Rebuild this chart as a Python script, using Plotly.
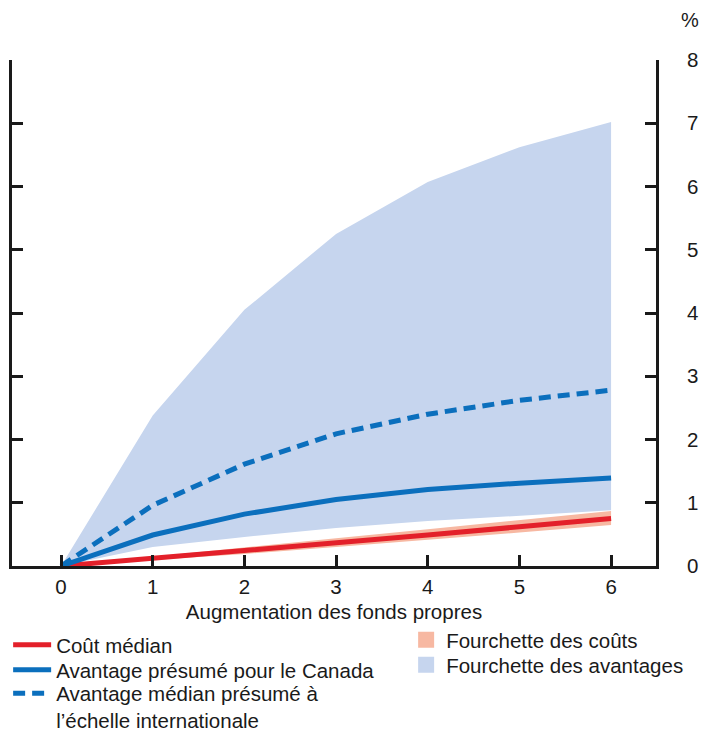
import plotly.graph_objects as go

x = [0, 1, 2, 3, 4, 5, 6]
cost_median = [0, 0.12, 0.24, 0.37, 0.49, 0.62, 0.75]
cost_low = [0, 0.09, 0.19, 0.30, 0.41, 0.53, 0.65]
cost_high = [0, 0.15, 0.29, 0.44, 0.58, 0.72, 0.87]
benefit_canada = [0, 0.49, 0.82, 1.05, 1.21, 1.31, 1.39]
benefit_intl = [0, 0.96, 1.61, 2.09, 2.40, 2.62, 2.78]
benefit_low = [0, 0.30, 0.46, 0.60, 0.71, 0.80, 0.88]
benefit_high = [0, 2.38, 4.05, 5.25, 6.07, 6.62, 7.02]
yticks = [0, 1, 2, 3, 4, 5, 6, 7, 8]
xticks = [0, 1, 2, 3, 4, 5, 6]

RED = "#e3202a"
BLUE = "#0b6fbd"
BAND_B = "#c6d5ee"
BAND_C = "#f7b8a2"
FONT = "Liberation Sans, Arial, sans-serif"
INK = "#1a1a1a"

fig = go.Figure()
fig.add_trace(go.Scatter(x=x, y=benefit_low, mode="lines", line=dict(width=0),
                         showlegend=False, hoverinfo="skip"))
fig.add_trace(go.Scatter(x=x, y=benefit_high, mode="lines", line=dict(width=0),
                         fill="tonexty", fillcolor=BAND_B, showlegend=False))
fig.add_trace(go.Scatter(x=x, y=cost_low, mode="lines", line=dict(width=0),
                         showlegend=False, hoverinfo="skip"))
fig.add_trace(go.Scatter(x=x, y=cost_high, mode="lines", line=dict(width=0),
                         fill="tonexty", fillcolor=BAND_C, showlegend=False))
fig.add_trace(go.Scatter(x=x, y=cost_median, mode="lines", name="Coût médian",
                         line=dict(color=RED, width=5), legend="legend"))
fig.add_trace(go.Scatter(x=x, y=benefit_canada, mode="lines", name="Avantage présumé pour le Canada",
                         line=dict(color=BLUE, width=5), legend="legend3"))
fig.add_trace(go.Scatter(x=x, y=benefit_intl, mode="lines",
                         name="Avantage médian présumé à<br>l’échelle internationale",
                         line=dict(color=BLUE, width=5, dash="12px,7px"), legend="legend4"))
# legend swatches for bands
fig.add_trace(go.Scatter(x=[None], y=[None], mode="markers", name="Fourchette des coûts",
                         marker=dict(symbol="square", size=19, color=BAND_C), legend="legend2"))
fig.add_trace(go.Scatter(x=[None], y=[None], mode="markers", name="Fourchette des avantages",
                         marker=dict(symbol="square", size=19, color=BAND_B), legend="legend5"))
# invisible trace for the right axis
fig.add_trace(go.Scatter(x=[None], y=[None], yaxis="y2", showlegend=False))

axis_common = dict(ticks="inside", ticklen=11, tickwidth=2.5, tickcolor=INK,
                   showline=True, linewidth=3, linecolor=INK, showgrid=False,
                   zeroline=False, automargin=False)

LFONT = dict(size=20.5)
def leg(xp, yp, anchor="middle"):
    return dict(x=xp, y=yp, xanchor="left", yanchor=anchor, bgcolor="rgba(0,0,0,0)",
                font=LFONT, valign="top", itemwidth=38)

fig.update_layout(
    width=704, height=738,
    margin=dict(l=12, r=48, t=60, b=172, autoexpand=False),
    paper_bgcolor="white", plot_bgcolor="white",
    font=dict(family=FONT, size=20, color=INK),
    xaxis=dict(range=[-0.535, 6.49], tickvals=xticks,
               title=dict(text="Augmentation des fonds propres", standoff=9,
                          font=dict(size=20.5)),
               tickfont=dict(size=20.5), **axis_common),
    yaxis=dict(range=[0, 8], tickvals=yticks, showticklabels=False, **axis_common),
    yaxis2=dict(range=[0, 8], tickvals=yticks, overlaying="y", side="right",
                ticklabelstandoff=24, tickfont=dict(size=20.5), **axis_common),
    legend=leg(-0.006, -0.1561),
    legend3=leg(-0.006, -0.2055),
    legend4=leg(-0.006, -0.2787),
    legend2=dict(leg(0.612, -0.1462), itemwidth=30),
    legend5=dict(leg(0.612, -0.1957), itemwidth=30),
    annotations=[dict(text="%", xref="paper", yref="paper", x=1.053, y=1.08,
                      xanchor="center", yanchor="middle", showarrow=False,
                      font=dict(size=20))],
)

fig.write_html("out.html", config={"displayModeBar": False},
               post_script="document.body.style.margin='0';")
